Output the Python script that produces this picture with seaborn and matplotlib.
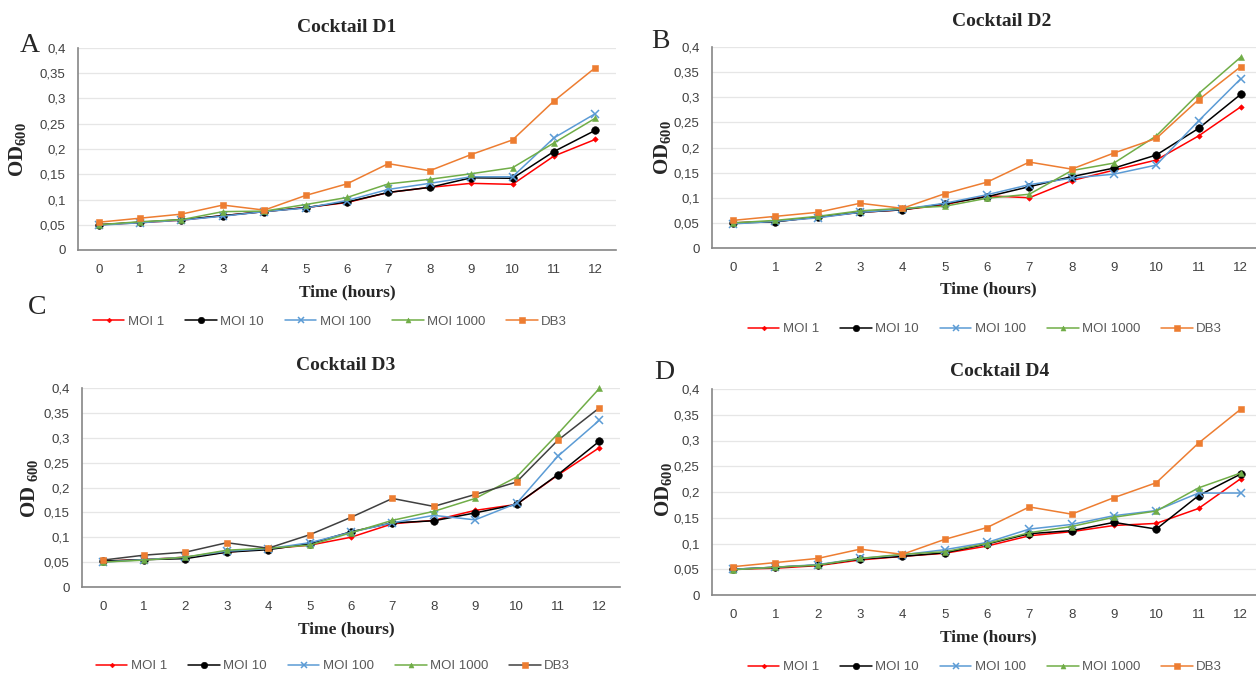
import numpy as np
import pandas as pd
import matplotlib
matplotlib.use("Agg")
import matplotlib.pyplot as plt
from matplotlib.lines import Line2D
from matplotlib.ticker import FixedLocator, FuncFormatter
import seaborn as sns

hours = list(range(13))
series_names = ["MOI 1", "MOI 10", "MOI 100", "MOI 1000", "DB3"]

# DB3 control is shared by all cocktails
db3 = [0.055, 0.063, 0.071, 0.089, 0.079, 0.108, 0.131, 0.171, 0.157, 0.189, 0.218, 0.295, 0.361]

# Cocktail D1
d1_moi1 = [0.050, 0.054, 0.059, 0.068, 0.076, 0.084, 0.094, 0.114, 0.124, 0.132, 0.130, 0.186, 0.219]
d1_moi10 = [0.050, 0.055, 0.060, 0.068, 0.076, 0.084, 0.095, 0.114, 0.124, 0.143, 0.142, 0.195, 0.237]
d1_moi100 = [0.049, 0.054, 0.059, 0.067, 0.076, 0.083, 0.098, 0.120, 0.132, 0.145, 0.145, 0.222, 0.270]
d1_moi1000 = [0.050, 0.056, 0.060, 0.076, 0.077, 0.090, 0.104, 0.131, 0.140, 0.151, 0.163, 0.212, 0.261]

# Cocktail D2
d2_moi1 = [0.050, 0.053, 0.061, 0.071, 0.076, 0.086, 0.104, 0.100, 0.134, 0.155, 0.175, 0.223, 0.281]
d2_moi10 = [0.050, 0.052, 0.062, 0.071, 0.076, 0.088, 0.102, 0.122, 0.142, 0.159, 0.185, 0.238, 0.306]
d2_moi100 = [0.048, 0.053, 0.060, 0.071, 0.077, 0.089, 0.106, 0.126, 0.139, 0.147, 0.165, 0.253, 0.337]
d2_moi1000 = [0.050, 0.055, 0.063, 0.074, 0.079, 0.083, 0.099, 0.107, 0.154, 0.169, 0.223, 0.307, 0.380]

# Cocktail D3
d3_moi1 = [0.052, 0.055, 0.060, 0.070, 0.077, 0.084, 0.100, 0.127, 0.134, 0.154, 0.166, 0.225, 0.280]
d3_moi10 = [0.052, 0.055, 0.057, 0.070, 0.075, 0.087, 0.111, 0.129, 0.133, 0.149, 0.166, 0.226, 0.293]
d3_moi100 = [0.050, 0.055, 0.060, 0.072, 0.077, 0.089, 0.110, 0.129, 0.144, 0.135, 0.168, 0.263, 0.335]
d3_moi1000 = [0.050, 0.054, 0.060, 0.074, 0.078, 0.084, 0.109, 0.134, 0.152, 0.178, 0.221, 0.308, 0.399]
d3_db3 = [0.054, 0.064, 0.070, 0.089, 0.078, 0.105, 0.140, 0.178, 0.162, 0.186, 0.211, 0.295, 0.360]

# Cocktail D4
d4_moi1 = [0.050, 0.052, 0.057, 0.068, 0.075, 0.081, 0.095, 0.115, 0.123, 0.135, 0.139, 0.168, 0.226]
d4_moi10 = [0.050, 0.054, 0.058, 0.070, 0.075, 0.082, 0.099, 0.119, 0.125, 0.141, 0.128, 0.193, 0.235]
d4_moi100 = [0.050, 0.054, 0.059, 0.071, 0.078, 0.088, 0.102, 0.128, 0.137, 0.154, 0.164, 0.198, 0.198]
d4_moi1000 = [0.049, 0.054, 0.058, 0.071, 0.079, 0.084, 0.100, 0.121, 0.133, 0.151, 0.163, 0.208, 0.237]

panels = [
    ("A", "Cocktail D1", [d1_moi1, d1_moi10, d1_moi100, d1_moi1000, db3]),
    ("B", "Cocktail D2", [d2_moi1, d2_moi10, d2_moi100, d2_moi1000, db3]),
    ("C", "Cocktail D3", [d3_moi1, d3_moi10, d3_moi100, d3_moi1000, d3_db3]),
    ("D", "Cocktail D4", [d4_moi1, d4_moi10, d4_moi100, d4_moi1000, db3]),
]

colors = ["#FF0000", "#000000", "#5B9BD5", "#70AD47", "#ED7D31"]
markers = ["D", "o", "x", "^", "s"]
msizes = [2.8, 5.5, 5.5, 4.2, 5.0]

sns.set_theme(style="white")
plt.rcParams["font.family"] = ["Liberation Sans", "DejaVu Sans"]
plt.rcParams["mathtext.fontset"] = "custom"
plt.rcParams["mathtext.rm"] = "Liberation Serif:bold"
plt.rcParams["mathtext.default"] = "rm"

fig = plt.figure(figsize=(12.56, 6.74), dpi=100)
W, H = 1256.0, 674.0

# pixel boxes: left, right, top, bottom of each plot area
boxes = [(78, 616, 48, 250), (712, 1262, 47, 248), (82, 620, 388, 587), (712, 1262, 389, 595)]
title_pos = [(347, 27), (1002, 21), (346, 366), (1000, 372)]
xlab_pos = [(347, 292), (988, 289), (346, 629), (988, 637)]
ylab_pos = [(18, 150), (662, 148), (30, 488), (664, 490)]
letter_pos = [(30, 46), (660, 41), (37, 307), (664, 373)]
legend_pos = [(330, 322), (985, 329), (333, 666), (985, 667)]
ylabels = [r"$\mathrm{OD}_{600}$", r"$\mathrm{OD}_{600}$", r"$\mathrm{OD}_{\ 600}$", r"$\mathrm{OD}_{600}$"]

def fx(px):
    return px / W

def fy(py):
    return 1 - py / H

fmt = FuncFormatter(lambda v, p: "0" if abs(v) < 1e-9 else ("%g" % round(v, 2)).replace(".", ","))

def series_style(letter, j, name):
    line_color = colors[j]
    if letter == "C" and name == "DB3":
        line_color = "#404040"
    return dict(color=line_color, lw=1.1, marker=markers[j], markersize=msizes[j],
                markerfacecolor=colors[j], markeredgecolor=colors[j],
                markeredgewidth=1.1 if markers[j] == "x" else 0.4)

for i, (letter, title, vals) in enumerate(panels):
    l, r, t, b = boxes[i]
    ax = fig.add_axes([fx(l), fy(b), (r - l) / W, (b - t) / H])
    for j, name in enumerate(series_names):
        df = pd.DataFrame({"hour": hours, "od": vals[j]})
        sns.lineplot(data=df, x="hour", y="od", ax=ax, clip_on=False,
                     **series_style(letter, j, name))
    ax.set_xlim(-0.5, 12.5)
    ax.set_ylim(0, 0.4)
    ax.xaxis.set_major_locator(FixedLocator(hours))
    ax.yaxis.set_major_locator(FixedLocator(np.arange(0, 0.4001, 0.05)))
    ax.yaxis.set_major_formatter(fmt)
    ax.tick_params(axis="both", length=0, labelsize=9.5, labelcolor="#404040")
    ax.tick_params(axis="x", pad=10)
    ax.tick_params(axis="y", pad=9)
    ax.grid(axis="y", color="#E6E6E6", lw=0.9)
    ax.set_axisbelow(True)
    for s in ["top", "right"]:
        ax.spines[s].set_visible(False)
    for s in ["left", "bottom"]:
        ax.spines[s].set_color("#868686")
        ax.spines[s].set_linewidth(1.2)
    ax.set_xlabel("")
    ax.set_ylabel("")

    fig.text(fx(title_pos[i][0]), fy(title_pos[i][1]), title, ha="center", va="center",
             family="Liberation Serif", weight="bold", fontsize=14)
    fig.text(fx(xlab_pos[i][0]), fy(xlab_pos[i][1]), "Time (hours)", ha="center", va="center",
             family="Liberation Serif", weight="bold", fontsize=12.5)
    fig.text(fx(ylab_pos[i][0]), fy(ylab_pos[i][1]), ylabels[i], ha="center", va="center",
             rotation=90, fontsize=15)
    fig.text(fx(letter_pos[i][0]), fy(letter_pos[i][1]), letter, ha="center", va="center",
             family="Liberation Serif", fontsize=20)

    handles = [Line2D([], [], **series_style(letter, j, name)) for j, name in enumerate(series_names)]
    fig.legend(handles, series_names, loc="center", ncol=5, frameon=False,
               bbox_to_anchor=(fx(legend_pos[i][0]), fy(legend_pos[i][1])),
               fontsize=9.5, labelcolor="#595959", handlelength=2.4,
               handletextpad=0.25, columnspacing=1.6, markerscale=0.85)

fig.savefig("out.png", dpi=100)
